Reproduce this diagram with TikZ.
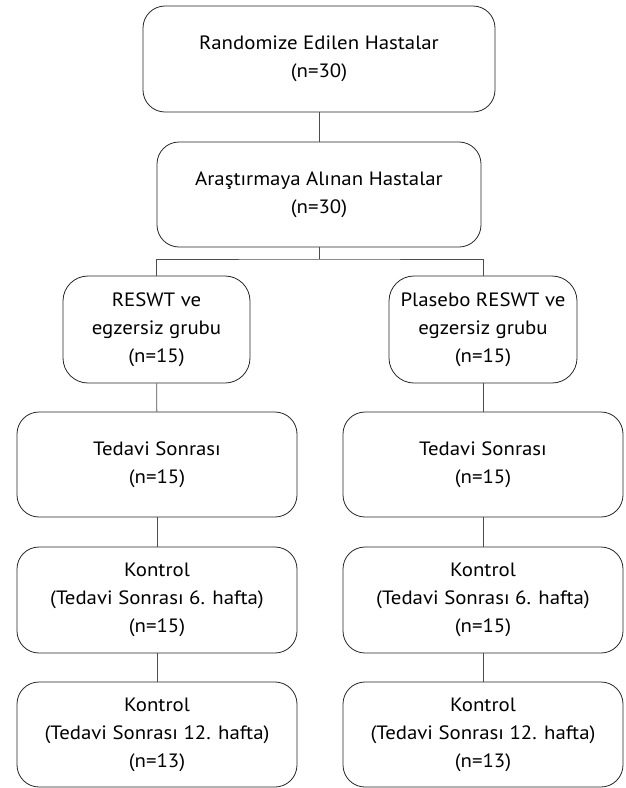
\documentclass[tikz,border=0pt]{standalone}
\usepackage{fontspec}
\setmainfont{PT Sans}[FakeStretch=1.08]
\begin{document}
\begin{tikzpicture}[x=1pt,y=-1pt,
  box/.style={draw=black!85, line width=0.8pt, rounded corners=22pt, align=center,
    inner sep=0pt, font=\fontsize{19.3}{28}\selectfont},
  conn/.style={draw=black!70, line width=0.9pt}]
\useasboundingbox (0,0) rectangle (625,788);
\node[box, minimum width=352pt, minimum height=106pt] (b1) at (319,59)
  {Randomize Edilen Hastalar\\(n=30)};
\node[box, minimum width=324pt, minimum height=105pt] (b2) at (319,194.5)
  {Araştırmaya Alınan Hastalar\\(n=30)};
\node[box, rounded corners=25pt, minimum width=187pt, minimum height=107pt] (gL) at (156.5,329.5)
  {RESWT ve\\egzersiz grubu\\(n=15)};
\node[box, rounded corners=25pt, minimum width=188pt, minimum height=107pt] (gR) at (483,329.5)
  {Plasebo RESWT ve\\egzersiz grubu\\(n=15)};
\node[box, minimum width=280pt, minimum height=105pt] (tL) at (157,464.5)
  {Tedavi Sonrası\\(n=15)};
\node[box, minimum width=280pt, minimum height=105pt] (tR) at (483,464.5)
  {Tedavi Sonrası\\(n=15)};
\node[box, minimum width=280pt, minimum height=106pt] (k1L) at (157,600)
  {Kontrol\\(Tedavi Sonrası 6. hafta)\\(n=15)};
\node[box, minimum width=280pt, minimum height=106pt] (k1R) at (483,600)
  {Kontrol\\(Tedavi Sonrası 6. hafta)\\(n=15)};
\node[box, minimum width=280pt, minimum height=105pt] (k2L) at (157,734.5)
  {Kontrol\\(Tedavi Sonrası 12. hafta)\\(n=13)};
\node[box, minimum width=280pt, minimum height=105pt] (k2R) at (483,734.5)
  {Kontrol\\(Tedavi Sonrası 12. hafta)\\(n=13)};
\coordinate (split) at (319,259);
\draw[conn] (b1) -- (b2);
\draw[conn] (b2) -- (split);
\draw[conn] (gL.north) |- (split) -| (gR.north);
\draw[conn] (gL) -- (tL);
\draw[conn] (gR) -- (tR);
\draw[conn] (tL) -- (k1L);
\draw[conn] (tR) -- (k1R);
\draw[conn] (k1L) -- (k2L);
\draw[conn] (k1R) -- (k2R);
\end{tikzpicture}
\end{document}
